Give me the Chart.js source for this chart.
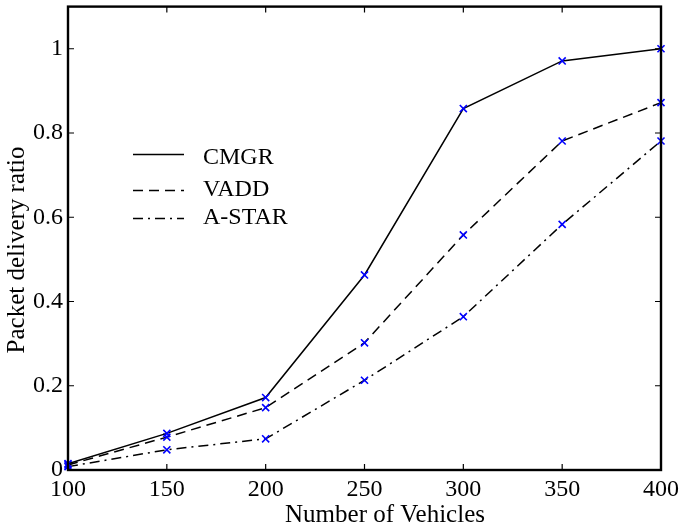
<!DOCTYPE html>
<html>
<head>
<meta charset="utf-8">
<script src="https://cdn.jsdelivr.net/npm/chart.js@4"></script>
<style>
  html, body { margin: 0; padding: 0; background: #fff; }
  #wrap { width: 686px; height: 529px; }
</style>
</head>
<body>
<div id="wrap"><canvas id="myChart" width="686" height="529"></canvas></div>
<script>
// data
const vehicles = [100, 150, 200, 250, 300, 350, 400];
const cmgr  = [0.015, 0.087, 0.172, 0.463, 0.858, 0.971, 1.0];
const vadd  = [0.012, 0.078, 0.148, 0.302, 0.558, 0.781, 0.872];
const astar = [0.008, 0.048, 0.074, 0.213, 0.364, 0.583, 0.781];
const seriesNames = ['CMGR', 'VADD', 'A-STAR'];
const xTitle = 'Number of Vehicles';
const yTitle = 'Packet delivery ratio';
const dashes = [[], [10, 6], [10, 5, 2, 5]];

const FONT = '"Liberation Serif", "DejaVu Serif", serif';

function toPoints(ys) {
  return ys.map(function (y, i) { return {x: vehicles[i], y: y}; });
}

// frame, inward ticks on all four sides, axis titles and the legend inside the plot
const framePlugin = {
  id: 'frame',
  afterDraw(chart) {
    const ctx = chart.ctx;
    const a = chart.chartArea;
    const xs = chart.scales.x, ys = chart.scales.y;
    ctx.save();
    ctx.strokeStyle = '#000';
    ctx.lineWidth = 1.2;
    const tl = 6;
    xs.ticks.forEach(function (t) {
      const px = xs.getPixelForValue(t.value);
      ctx.beginPath();
      ctx.moveTo(px, a.bottom); ctx.lineTo(px, a.bottom - tl);
      ctx.moveTo(px, a.top); ctx.lineTo(px, a.top + tl);
      ctx.stroke();
    });
    ys.ticks.forEach(function (t) {
      const py = ys.getPixelForValue(t.value);
      ctx.beginPath();
      ctx.moveTo(a.left, py); ctx.lineTo(a.left + tl, py);
      ctx.moveTo(a.right, py); ctx.lineTo(a.right - tl, py);
      ctx.stroke();
    });
    ctx.lineWidth = 2.4;
    ctx.strokeRect(a.left, a.top, a.right - a.left, a.bottom - a.top);

    // axis titles (slightly off-centre as in the original figure)
    ctx.fillStyle = '#000';
    ctx.font = '25px ' + FONT;
    ctx.textAlign = 'center';
    ctx.textBaseline = 'alphabetic';
    ctx.fillText(xTitle, 385, 522);
    ctx.save();
    ctx.translate(24, 250);
    ctx.rotate(-Math.PI / 2);
    ctx.fillText(yTitle, 0, 0);
    ctx.restore();

    // legend (line rows and text rows, relative to plot top)
    const lx = a.left + 65;
    const lineRows = [148, 184, 212];
    const textRows = [150, 182, 210];
    ctx.font = '24px ' + FONT;
    ctx.textAlign = 'left';
    ctx.textBaseline = 'middle';
    seriesNames.forEach(function (name, i) {
      ctx.lineWidth = 1.5;
      ctx.setLineDash(dashes[i]);
      ctx.beginPath();
      ctx.moveTo(lx, a.top + lineRows[i]); ctx.lineTo(lx + 51, a.top + lineRows[i]);
      ctx.stroke();
      ctx.setLineDash([]);
      ctx.fillText(name, lx + 70, a.top + textRows[i] + 1);
    });
    ctx.restore();
  }
};

const ctx = document.getElementById('myChart').getContext('2d');
const datasets = [cmgr, vadd, astar].map(function (ys, i) {
  return {
    label: seriesNames[i],
    data: toPoints(ys),
    borderColor: '#000',
    borderWidth: 1.5,
    borderDash: dashes[i],
    pointStyle: 'crossRot',
    pointRadius: 5,
    pointBorderColor: '#0000ff',
    pointBorderWidth: 1.6,
    pointBackgroundColor: '#0000ff',
    tension: 0,
    clip: false
  };
});

new Chart(ctx, {
  type: 'line',
  data: { datasets: datasets },
  options: {
    responsive: false,
    animation: false,
    layout: { padding: { top: 6, right: 25, left: 0, bottom: 0 } },
    plugins: { legend: { display: false }, tooltip: { enabled: false } },
    scales: {
      x: {
        type: 'linear',
        min: 100, max: 400,
        ticks: { stepSize: 50, color: '#000', padding: 5, font: { family: FONT, size: 24 } },
        grid: { drawOnChartArea: false, drawTicks: false },
        border: { display: false },
        afterFit(s) { s.height = 59; s.paddingLeft = 0; s.paddingRight = 0; }
      },
      y: {
        min: 0, max: 1.1,
        ticks: {
          stepSize: 0.2, color: '#000', padding: 5, font: { family: FONT, size: 24 },
          callback: function (v) { return String(Math.round(v * 10) / 10); }
        },
        afterBuildTicks(s) { s.ticks = s.ticks.filter(function (t) { return t.value <= 1.0001; }); },
        grid: { drawOnChartArea: false, drawTicks: false },
        border: { display: false },
        afterFit(s) { s.width = 68; s.paddingTop = 0; s.paddingBottom = 0; }
      }
    }
  },
  plugins: [framePlugin]
});
</script>
</body>
</html>
